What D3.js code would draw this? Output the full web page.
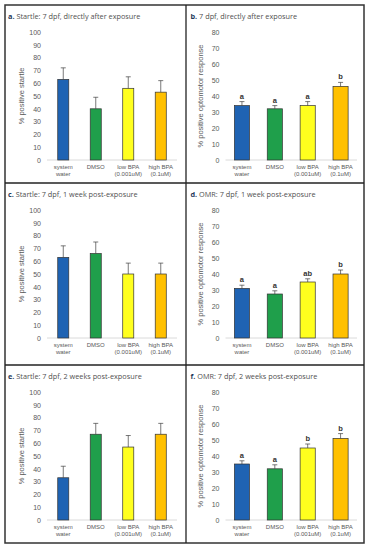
<!DOCTYPE html>
<html>
<head>
<meta charset="utf-8">
<script src="https://cdn.jsdelivr.net/npm/d3@7"></script>
<style>
  body { margin: 0; background: #fff; }
  text { font-family: "Liberation Sans", Arial, sans-serif; }
</style>
</head>
<body>
<div id="chart"></div>
<script>
// categories shared by all six panels
const categories = [["system", "water"], ["DMSO"], ["low BPA", "(0.001uM)"], ["high BPA", "(0.1uM)"]];
const barColors = ["#1f63b3", "#1f9f4b", "#ffff1e", "#ffc000"];

// panel titles (bold letter + text)
const panelLetters = ["a.", "b.", "c.", "d.", "e.", "f."];
const panelTitles = [
  "Startle: 7 dpf, directly after exposure",
  "7 dpf, directly after exposure",
  "Startle: 7 dpf, 1 week post-exposure",
  "OMR: 7 dpf, 1 week post-exposure",
  "Startle: 7 dpf, 2 weeks post-exposure",
  "OMR: 7 dpf, 2 weeks post-exposure"
];
const yTitles = ["% positive startle", "% positive optomotor response",
                 "% positive startle", "% positive optomotor response",
                 "% positive startle", "% positive optomotor response"];
const yMaxes = [100, 80, 100, 80, 100, 80];

// values and error (upper) per panel
const startleDirect = [63, 40, 56, 53];
const startleDirectErr = [9, 9, 9, 9];
const omrDirect = [34, 32, 34, 46];
const omrDirectErr = [2.5, 2, 2.5, 2.5];
const omrDirectSig = ["a", "a", "a", "b"];

const startleWeek1 = [63, 66, 50, 50];
const startleWeek1Err = [9, 9, 8.5, 8.5];
const omrWeek1 = [31, 27.5, 35, 40];
const omrWeek1Err = [2, 2, 2, 2.5];
const omrWeek1Sig = ["a", "a", "ab", "b"];

const startleWeek2 = [33, 67, 57, 67];
const startleWeek2Err = [9, 8.5, 9, 8.5];
const omrWeek2 = [35, 32, 45, 51];
const omrWeek2Err = [2, 2.5, 2.5, 3];
const omrWeek2Sig = ["a", "a", "b", "b"];

const panelValues = [startleDirect, omrDirect, startleWeek1, omrWeek1, startleWeek2, omrWeek2];
const panelErrors = [startleDirectErr, omrDirectErr, startleWeek1Err, omrWeek1Err, startleWeek2Err, omrWeek2Err];
const panelSig = [null, omrDirectSig, null, omrWeek1Sig, null, omrWeek2Sig];

const W = 372, H = 550;
const colX = [5, 186, 364];
const rowY = [5, 183, 365, 543];

const svg = d3.select("#chart").append("svg")
  .attr("width", W).attr("height", H);

svg.append("rect").attr("width", W).attr("height", H).attr("fill", "#fff");

panelValues.forEach((vals, i) => {
  const col = i % 2, row = Math.floor(i / 2);
  const left = colX[col], top = rowY[row];
  const g = svg.append("g").attr("transform", `translate(${left},${top})`);

  const plotTop = 27, plotBottom = 155;
  const xRange = col === 0 ? [42, 172] : [39.5, 171];
  const pad = col === 0 ? 0.66 : 0.54;

  const x = d3.scaleBand().domain(d3.range(categories.length))
    .range(xRange).paddingInner(pad).paddingOuter(pad / 2);
  const y = d3.scaleLinear().domain([0, yMaxes[i]]).range([plotBottom, plotTop]);

  // title
  const t = g.append("text")
    .attr("x", col === 0 ? 3 : 4.5)
    .attr("y", 13.5)
    .style("font-family", "'Open Sans', sans-serif")
    .style("font-size", "7.3px")
    .attr("fill", "#505050");
  t.append("tspan").attr("font-weight", "bold").attr("fill", "#1f3a5a").text(panelLetters[i] + " ");
  t.append("tspan").text(panelTitles[i]);

  // y axis (labels only)
  const yAxis = g.append("g")
    .attr("transform", `translate(${xRange[0]},0)`)
    .call(d3.axisLeft(y).ticks(yMaxes[i] / 10).tickSize(0).tickPadding(6));
  yAxis.select(".domain").remove();
  yAxis.selectAll("text")
    .style("font-size", "7px")
    .style("font-family", "'Liberation Sans', Arial, sans-serif")
    .attr("fill", "#595959");

  // y title
  g.append("text")
    .attr("transform", `translate(${col === 0 ? 18.5 : 16.5},${(plotTop + plotBottom) / 2}) rotate(-90)`)
    .attr("text-anchor", "middle")
    .style("font-size", "7.5px")
    .attr("fill", "#595959")
    .text(yTitles[i]);

  // baseline
  g.append("line")
    .attr("x1", xRange[0]).attr("x2", xRange[1])
    .attr("y1", y(0)).attr("y2", y(0))
    .attr("stroke", "#d0d0d0").attr("stroke-width", 0.8);

  // bars
  g.selectAll("rect.bar").data(vals).join("rect")
    .attr("class", "bar")
    .attr("x", (d, j) => x(j))
    .attr("y", d => y(d))
    .attr("width", x.bandwidth())
    .attr("height", d => y(0) - y(d))
    .attr("fill", (d, j) => barColors[j])
    .attr("stroke", "#333")
    .attr("stroke-width", 0.7);

  // error bars (upper only)
  const errs = panelErrors[i];
  vals.forEach((v, j) => {
    const cx = x(j) + x.bandwidth() / 2;
    const yt = y(v + errs[j]);
    g.append("line").attr("x1", cx).attr("x2", cx)
      .attr("y1", y(v)).attr("y2", yt)
      .attr("stroke", "#404040").attr("stroke-width", 0.7);
    g.append("line").attr("x1", cx - 2.5).attr("x2", cx + 2.5)
      .attr("y1", yt).attr("y2", yt)
      .attr("stroke", "#404040").attr("stroke-width", 0.7);
    if (panelSig[i]) {
      g.append("text").attr("x", cx).attr("y", yt - 3)
        .attr("text-anchor", "middle")
        .style("font-size", "7.5px").style("font-weight", "bold")
        .attr("fill", "#333")
        .text(panelSig[i][j]);
    }
  });

  // x labels
  categories.forEach((lines, j) => {
    const cx = x(j) + x.bandwidth() / 2;
    lines.forEach((ln, k) => {
      g.append("text").attr("x", cx).attr("y", plotBottom + 9 + k * 6.8)
        .attr("text-anchor", "middle")
        .style("font-size", "6px")
        .attr("fill", "#595959")
        .text(ln);
    });
  });
});

// frame and dividers
svg.append("rect")
  .attr("x", colX[0]).attr("y", rowY[0])
  .attr("width", colX[2] - colX[0]).attr("height", rowY[3] - rowY[0])
  .attr("fill", "none").attr("stroke", "#333").attr("stroke-width", 1.5);
svg.append("line").attr("x1", colX[1]).attr("x2", colX[1])
  .attr("y1", rowY[0]).attr("y2", rowY[3])
  .attr("stroke", "#222").attr("stroke-width", 1.3);
[rowY[1], rowY[2]].forEach(yy => {
  svg.append("line").attr("x1", colX[0]).attr("x2", colX[2])
    .attr("y1", yy).attr("y2", yy)
    .attr("stroke", "#222").attr("stroke-width", 1.3);
});
</script>
</body>
</html>
